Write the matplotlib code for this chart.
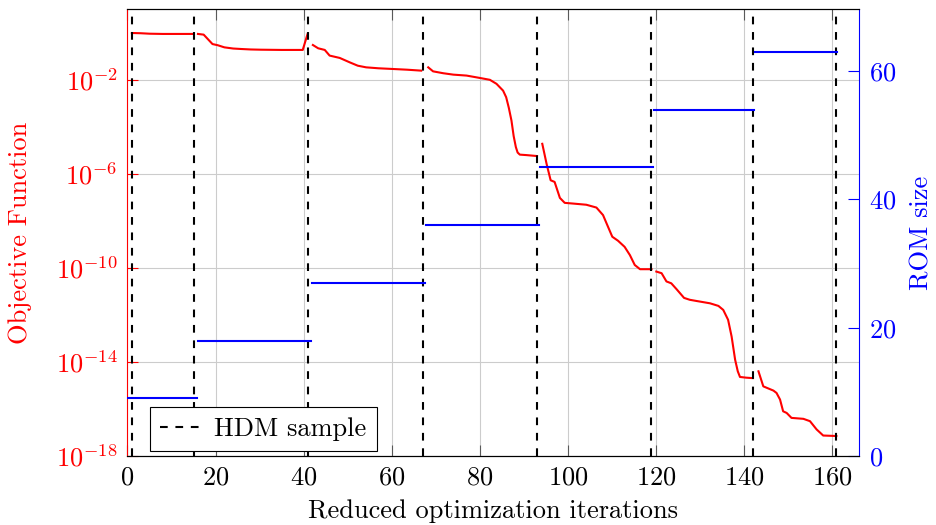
import numpy as np
import matplotlib
matplotlib.use("Agg")
import matplotlib.pyplot as plt
from matplotlib.lines import Line2D
from matplotlib.ticker import FixedLocator, FixedFormatter, NullLocator

plt.rcParams['font.family'] = 'serif'
plt.rcParams['font.serif'] = ['cmr10']
plt.rcParams['mathtext.fontset'] = 'cm'
plt.rcParams['axes.unicode_minus'] = False
plt.rcParams['axes.formatter.use_mathtext'] = True

FS = 19

# HDM samples (reduced iteration at which a full-order solve was taken)
hdm_iters = [1, 15, 41, 67, 93, 119, 142, 161]

# objective function along each ROM, log10 of the value
obj_x = [
    [1, 3, 5, 8, 11, 15],
    [16, 17.3, 19.3, 20.5, 22, 24, 25.8, 28, 30.3, 35, 39.8, 40.9],
    [42.1, 43.3, 44.8, 45.9, 48.2, 50.5, 52.3, 54.2, 57, 60.3, 63.5, 66.7],
    [68.3, 69.4, 71.7, 74, 77, 80, 82.3, 83.8, 85.3, 86, 86.6, 87.2, 87.7,
     88.2, 88.6, 89.1, 90.6, 93],
    [94.2, 95.2, 96.1, 97, 98.2, 99.3, 101.2, 104.2, 106.5, 108, 109, 110.1,
     111.4, 112.9, 114.1, 115.2, 116.4, 119],
    [120.1, 121.3, 122.4, 123.5, 124.7, 126.4, 127.7, 129.2, 132.3, 134.2,
     135.3, 136.4, 137.2, 138, 138.6, 139.1, 140.5, 142],
    [143.3, 144.4, 146.7, 147.4, 148.2, 148.9, 149.7, 150.8, 153.5, 155,
     156.5, 158, 161],
]
obj_log10 = [
    [-0.02, -0.03, -0.05, -0.06, -0.06, -0.06],
    [-0.06, -0.09, -0.49, -0.54, -0.63, -0.68, -0.70, -0.72, -0.73, -0.74,
     -0.74, -0.06],
    [-0.53, -0.67, -0.74, -0.98, -1.08, -1.27, -1.41, -1.48, -1.52, -1.55,
     -1.58, -1.62],
    [-1.48, -1.65, -1.73, -1.79, -1.83, -1.93, -2.01, -2.18, -2.47, -2.75,
     -3.2, -3.74, -4.4, -4.87, -5.1, -5.19, -5.21, -5.25],
    [-4.73, -5.6, -6.28, -6.35, -7.03, -7.24, -7.27, -7.32, -7.44, -7.76,
     -8.2, -8.68, -8.85, -9.11, -9.46, -9.88, -10.06, -10.06],
    [-10.16, -10.23, -10.58, -10.66, -10.91, -11.28, -11.36, -11.41, -11.51,
     -11.62, -11.79, -12.21, -12.92, -13.91, -14.4, -14.64, -14.67, -14.69],
    [-14.40, -15.04, -15.22, -15.32, -15.60, -16.10, -16.17, -16.38, -16.42,
     -16.52, -16.87, -17.13, -17.15],
]

# ROM size used over each stretch of reduced iterations
rom_start = [0, 16, 41.9, 67.8, 93.6, 119.5, 142.4]
rom_end = [15.8, 41.7, 67.6, 93.5, 119.4, 142.3, 161.2]
rom_size = [9, 18, 27, 36, 45, 54, 63]

x_ticks = [0, 20, 40, 60, 80, 100, 120, 140, 160]
obj_ticks = [1e-18, 1e-14, 1e-10, 1e-6, 1e-2]
obj_tick_labels = [r'$10^{-18}$', r'$10^{-14}$', r'$10^{-10}$',
                   r'$10^{-6}$', r'$10^{-2}$']
rom_ticks = [0, 20, 40, 60]

fig = plt.figure(figsize=(9.36, 5.25), dpi=100)
ax = fig.add_axes([127.5 / 936, 1 - 456 / 525, (859.3 - 127.5) / 936, (456 - 9) / 525])

ax.grid(True, color='0.8', linewidth=0.8)
ax.set_axisbelow(True)

for xs, ls in zip(obj_x, obj_log10):
    ax.plot(xs, 10.0 ** np.array(ls), color='red', linewidth=1.5, zorder=3)

for it in hdm_iters:
    ax.axvline(it, color='black', linewidth=1.5, dashes=(3.7, 3.7), zorder=4)

ax.set_yscale('log')
ax.set_xlim(0, 166.2)
ax.set_ylim(1e-18, 1e1)
ax.xaxis.set_major_locator(FixedLocator(x_ticks))
ax.yaxis.set_major_locator(FixedLocator(obj_ticks))
ax.yaxis.set_major_formatter(FixedFormatter(obj_tick_labels))
ax.yaxis.set_minor_locator(NullLocator())

ax.tick_params(axis='x', direction='in', top=True, length=7.9, width=0.8,
               color='0.35', labelsize=FS, pad=7)
ax.tick_params(axis='y', direction='in', length=7.9, width=0.8,
               color='red', labelcolor='red', labelsize=FS, pad=7)
ax.set_xlabel('Reduced optimization iterations', fontsize=FS, labelpad=7)
ax.set_ylabel('Objective Function', fontsize=FS, color='red', labelpad=17)

ax2 = ax.twinx()
for x0, x1, s in zip(rom_start, rom_end, rom_size):
    ax2.plot([x0, x1], [s, s], color='blue', linewidth=1.5)
ax2.set_ylim(0, 69.7)
ax2.yaxis.set_major_locator(FixedLocator(rom_ticks))
ax2.tick_params(axis='y', direction='in', length=7.9, width=0.8,
                color='blue', labelcolor='blue', labelsize=FS, pad=7)
ax2.set_ylabel('ROM size', fontsize=FS, color='blue', labelpad=10)

for a in (ax, ax2):
    a.spines['left'].set_color('red')
    a.spines['right'].set_color('blue')
    for s in a.spines.values():
        s.set_linewidth(0.8)
ax2.spines['left'].set_visible(False)
ax.spines['right'].set_visible(False)

handle = Line2D([], [], color='black', linewidth=1.5, dashes=(3.7, 3.7))
leg = ax2.legend([handle], ['HDM sample'], loc='lower left',
                 bbox_to_anchor=(0.031, 0.011), borderaxespad=0,
                 fontsize=FS, fancybox=False, framealpha=1,
                 edgecolor='black', handlelength=1.6, handletextpad=0.45,
                 borderpad=0.38)
leg.get_frame().set_linewidth(0.8)

fig.savefig('out.png', dpi=100)
